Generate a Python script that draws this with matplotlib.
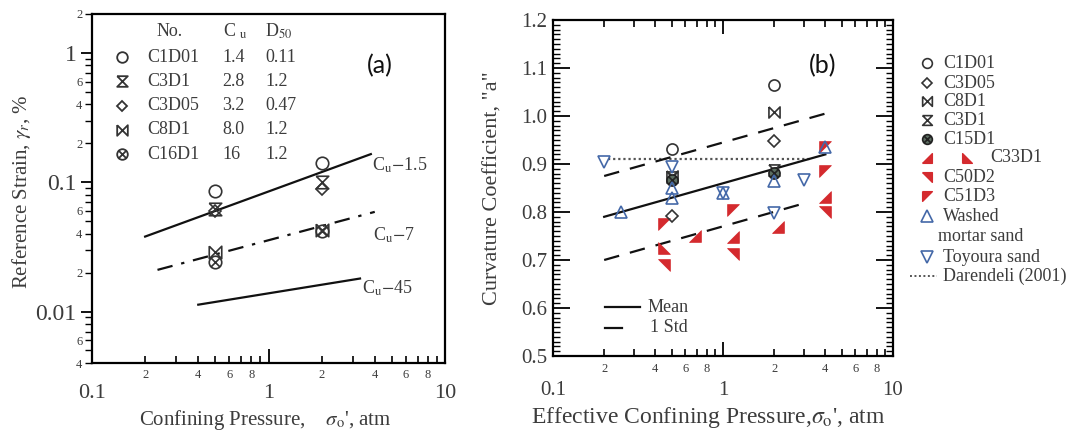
import matplotlib
matplotlib.use("Agg")
import matplotlib.pyplot as plt
import numpy as np
from matplotlib.path import Path
from matplotlib.ticker import LogLocator, FuncFormatter, MultipleLocator

plt.rcParams['font.family'] = ['Liberation Serif', 'DejaVu Serif']
plt.rcParams['mathtext.fontset'] = 'stix'
TXT = '#3c3c3c'
RED = '#d42a2e'
BLUE = '#4468a8'

# ── panel (a): reference strain ──────────────────────────────────────────────
a_names = ['C1D01', 'C3D1', 'C3D05', 'C8D1', 'C16D1']
a_cu = ['1.4', '2.8', '3.2', '8.0', '16']
a_d50 = ['0.11', '1.2', '0.47', '1.2', '1.2']
a_press = [0.5, 2.0]
strain_c1d01 = [0.085, 0.140]
strain_c3d1 = [0.062, 0.100]
strain_c3d05 = [0.060, 0.088]
strain_c8d1 = [0.029, 0.043]
strain_c16d1 = [0.024, 0.042]

cu15_x, cu15_y = [0.2, 3.8], [0.038, 0.165]
cu7_x, cu7_y = [0.235, 4.0], [0.021, 0.059]
cu45_x, cu45_y = [0.4, 3.3], [0.0113, 0.018]

# ── panel (b): curvature coefficient ─────────────────────────────────────────
b_press = [0.5, 2.0]
a_c1d01 = [0.932, 1.065]
a_c3d05 = [0.792, 0.948]
a_c8d1 = [0.875, 1.008]
a_c3d1 = [0.872, 0.888]
a_c15d1 = [0.866, 0.882]
c33a_x, c33a_y = [0.68, 1.15, 2.1, 4.0], [0.750, 0.748, 0.768, 0.832]
c33b_x, c33b_y = [0.45], [0.725]
c50_x, c50_y = [0.45, 1.15, 4.0], [0.690, 0.712, 0.800]
c51_x, c51_y = [0.45, 1.15, 4.0, 4.0], [0.775, 0.805, 0.885, 0.935]
washed_x = [0.25, 0.5, 0.5, 1.0, 2.0, 4.0]
washed_y = [0.800, 0.830, 0.850, 0.840, 0.865, 0.935]
toyoura_x = [0.2, 0.5, 1.0, 2.0, 3.0]
toyoura_y = [0.905, 0.893, 0.840, 0.798, 0.866]
mean_x, mean_y = [0.2, 4.0], [0.790, 0.920]
std_up_x, std_up_y = [0.2, 4.0], [0.875, 1.005]
std_lo_x, std_lo_y = [0.2, 3.0], [0.700, 0.818]
dar_x, dar_y = [0.21, 3.3], [0.91, 0.91]

# ── marker shapes ────────────────────────────────────────────────────────────
HOURGLASS = [(-1, 1), (1, 1), (-1, -1), (1, -1), (-1, 1)]
BOWTIE = [(-1, 1), (-1, -1), (1, 1), (1, -1), (-1, 1)]
CIRCX = Path.make_compound_path(Path.unit_circle(),
                                Path([(-.71, -.71), (.71, .71)]),
                                Path([(-.71, .71), (.71, -.71)]))
TRI_BR = [(-1, -1), (1, -1), (1, 1), (-1, -1)]   # ◢
TRI_BL = [(-1, -1), (1, -1), (-1, 1), (-1, -1)]  # ◣
TRI_TR = [(-1, 1), (1, 1), (1, -1), (-1, 1)]     # ◥
TRI_TL = [(-1, 1), (1, 1), (-1, -1), (-1, 1)]    # ◤

a_markers = ['o', HOURGLASS, 'D', BOWTIE, CIRCX]
a_sizes = [9, 9, 6.5, 9, 9]

W, H = 1080, 443
fig = plt.figure(figsize=(W / 100, H / 100), dpi=100)


def box(l, t, r, b):
    return [l / W, 1 - b / H, (r - l) / W, (b - t) / H]


def minor_fmt(keep):
    def f(v, pos):
        m = int(round(v / 10 ** np.floor(np.log10(v) + 1e-9)))
        return str(m) if m in keep else ''
    return FuncFormatter(f)


major_fmt = FuncFormatter(lambda v, p: f'{v:g}')

# ── axes (a) ────────────────────────────────────────────────────────────────
ax = fig.add_axes(box(92, 14, 445, 363))
ax.set_xscale('log')
ax.set_yscale('log')
ax.set_xlim(0.1, 10)
ax.set_ylim(0.004, 2)

ax.plot(cu15_x, cu15_y, color='#111', lw=1.6)
ax.plot(cu7_x, cu7_y, color='#111', lw=1.6, dashes=(7, 4, 1.5, 4))
ax.plot(cu45_x, cu45_y, color='#111', lw=1.6)
a_series = [strain_c1d01, strain_c3d1, strain_c3d05, strain_c8d1, strain_c16d1]
for ys, mk, ms in zip(a_series, a_markers, a_sizes):
    ax.plot(a_press, ys, ls='none', marker=mk, ms=ms, mfc='none', mec='#333', mew=1.2)

ax.xaxis.set_major_locator(LogLocator(base=10, numticks=10))
ax.xaxis.set_minor_locator(LogLocator(base=10, subs=np.arange(2, 10), numticks=20))
ax.yaxis.set_major_locator(LogLocator(base=10, numticks=10))
ax.yaxis.set_minor_locator(LogLocator(base=10, subs=np.arange(2, 10), numticks=20))
ax.xaxis.set_major_formatter(major_fmt)
ax.yaxis.set_major_formatter(major_fmt)
ax.xaxis.set_minor_formatter(minor_fmt({2, 4, 6, 8}))
ax.yaxis.set_minor_formatter(minor_fmt({2, 4, 6}))
ax.tick_params(axis='x', which='both', direction='in', labelcolor=TXT)
ax.tick_params(axis='y', which='both', direction='out', labelcolor=TXT)
ax.tick_params(axis='x', which='major', length=10, width=1.3, labelsize=16, pad=15)
ax.tick_params(axis='x', which='minor', length=5, width=1.2, labelsize=9, pad=4)
ax.tick_params(axis='y', which='major', length=8, width=1.3, labelsize=17, pad=3)
ax.tick_params(axis='y', which='minor', length=5, width=1.0, labelsize=9, pad=2)
for s in ax.spines.values():
    s.set_linewidth(1.6)

# ── axes (b) ────────────────────────────────────────────────────────────────
bx = fig.add_axes(box(553, 20, 893, 356))
bx.set_xscale('log')
bx.set_xlim(0.1, 10)
bx.set_ylim(0.5, 1.2)

bx.plot(dar_x, dar_y, color='#555', lw=1.6, dashes=(1, 1.3))
bx.plot(mean_x, mean_y, color='#111', lw=1.6)
bx.plot(std_up_x, std_up_y, color='#111', lw=1.6, dashes=(7, 5))
bx.plot(std_lo_x, std_lo_y, color='#111', lw=1.6, dashes=(7, 5))

red_kw = dict(ls='none', ms=8.5, color=RED, mec=RED, mew=0.5)
bx.plot(c51_x, c51_y, marker=TRI_TL, **red_kw)
bx.plot(c33a_x, c33a_y, marker=TRI_BR, **red_kw)
bx.plot(c33b_x, c33b_y, marker=TRI_BL, **red_kw)
bx.plot(c50_x, c50_y, marker=TRI_TR, **red_kw)

open_kw = dict(ls='none', mfc='none', mec='#333', mew=1.2)
bx.plot(b_press, a_c1d01, marker='o', ms=8, **open_kw)
bx.plot(b_press, a_c3d05, marker='D', ms=6, **open_kw)
bx.plot(b_press, a_c8d1, marker=BOWTIE, ms=8, **open_kw)
bx.plot(b_press, a_c3d1, marker=HOURGLASS, ms=8, **open_kw)
bx.plot(b_press, a_c15d1, ls='none', marker=CIRCX, ms=8, mfc='#5d6f62', mec='#222', mew=1.2)
bx.plot(washed_x, washed_y, ls='none', marker='^', ms=9, mfc='none', mec=BLUE, mew=1.2)
bx.plot(toyoura_x, toyoura_y, ls='none', marker='v', ms=9, mfc='none', mec=BLUE, mew=1.2)

bx.xaxis.set_major_locator(LogLocator(base=10, numticks=10))
bx.xaxis.set_minor_locator(LogLocator(base=10, subs=np.arange(2, 10), numticks=20))
bx.xaxis.set_major_formatter(major_fmt)
bx.xaxis.set_minor_formatter(minor_fmt({2, 4, 6, 8}))
bx.yaxis.set_major_locator(MultipleLocator(0.1))
bx.yaxis.set_minor_locator(MultipleLocator(0.01))
bx.yaxis.set_major_formatter(FuncFormatter(lambda v, p: f'{v:.1f}'))
bx.tick_params(which='both', direction='in', top=True, right=True, labelcolor=TXT)
bx.tick_params(axis='x', which='major', length=10, width=1.3, labelsize=15, pad=18)
bx.tick_params(axis='x', which='minor', length=5, width=1.2, labelsize=9, pad=5)
bx.tick_params(axis='y', which='major', length=12, width=1.3, labelsize=15, pad=4)
bx.tick_params(axis='y', which='minor', length=5, width=1.0)
for s in bx.spines.values():
    s.set_linewidth(1.6)

# ── overlay for legends and labels (pixel coordinates) ──────────────────────
ov = fig.add_axes([0, 0, 1, 1])
ov.set_xlim(0, W)
ov.set_ylim(H, 0)
ov.axis('off')

tkw = dict(color=TXT, fontsize=13, va='center')
ov.text(157, 31, 'No.', **tkw)
ov.text(223, 31, r'C $_{\rm u}$', **tkw)
ov.text(265, 31, r'D$_{50}$', **tkw)
for i, name in enumerate(a_names):
    y = 57 + 24.3 * i
    ov.plot(122, y, marker=a_markers[i], ms=a_sizes[i] * 0.85, mfc='none', mec='#333', mew=1.3)
    ov.text(147, y, name, **tkw)
    ov.text(222, y, a_cu[i], **tkw)
    ov.text(265, y, a_d50[i], **tkw)

ov.text(372, 165, r'C$_{\rm u}$$-$1.5', **tkw)
ov.text(373, 235, r'C$_{\rm u}$$-$7', **tkw)
ov.text(362, 288, r'C$_{\rm u}$$-$45', **tkw)

ov.text(380, 66, '(a)', fontsize=18, family='Lato', color='#111', ha='center', va='center')
ov.text(823, 66, '(b)', fontsize=18, family='Lato', color='#111', ha='center', va='center')

ov.text(265, 420, r"Confining Pressure,    $\sigma_{\rm o}$', atm", color=TXT, fontsize=15,
        ha='center', va='center')
ov.text(22, 192, r"Reference Strain, $\gamma_r$, %", color=TXT, fontsize=15,
        ha='center', va='center', rotation=90)
ov.text(708, 418, r"Effective Confining Pressure,$\sigma_{\rm o}$', atm", color=TXT, fontsize=17,
        ha='center', va='center')
ov.text(493, 188, 'Curvature Coefficient, "a"', color=TXT, fontsize=16,
        ha='center', va='center', rotation=90)

# inner legend of panel (b)
ov.plot([605, 640], [307, 307], color='#111', lw=1.6)
ov.text(648, 307, 'Mean', **tkw)
ov.plot([605, 622], [328, 328], color='#111', lw=1.6)
ov.text(650, 328, '1 Std', **tkw)

# outer legend of panel (b)
lx, tx = 927, 943
rows = [63, 83, 101, 120, 139, 158, 177, 196, 216, 236, 257, 276]
ov.plot(lx, rows[0], marker='o', ms=7, **open_kw)
ov.text(tx, rows[0], 'C1D01', **tkw)
ov.plot(lx, rows[1], marker='D', ms=5.5, **open_kw)
ov.text(tx, rows[1], 'C3D05', **tkw)
ov.plot(lx, rows[2], marker=BOWTIE, ms=7, **open_kw)
ov.text(tx, rows[2], 'C8D1', **tkw)
ov.plot(lx, rows[3], marker=HOURGLASS, ms=7, **open_kw)
ov.text(tx, rows[3], 'C3D1', **tkw)
ov.plot(lx, rows[4], marker=CIRCX, ms=7, mfc='#5d6f62', mec='#222', mew=1.2)
ov.text(tx, rows[4], 'C15D1', **tkw)
ov.plot(lx, rows[5], marker=TRI_BR, ms=7, color=RED, mec=RED)
ov.plot(967, rows[5], marker=TRI_BL, ms=7, color=RED, mec=RED)
ov.text(990, rows[5], 'C33D1', **tkw)
ov.plot(lx, rows[6], marker=TRI_TR, ms=7, color=RED, mec=RED)
ov.text(tx, rows[6], 'C50D2', **tkw)
ov.plot(lx, rows[7], marker=TRI_TL, ms=7, color=RED, mec=RED)
ov.text(tx, rows[7], 'C51D3', **tkw)
ov.plot(lx, rows[8], marker='^', ms=8, mfc='none', mec=BLUE, mew=1.2)
ov.text(tx, rows[8], 'Washed', **tkw)
ov.text(938, rows[9], 'mortar sand', **tkw)
ov.plot(lx, rows[10], marker='v', ms=8, mfc='none', mec=BLUE, mew=1.2)
ov.text(tx, rows[10], 'Toyoura sand', **tkw)
ov.plot([910, 937], [rows[11], rows[11]], color='#555', lw=1.4, dashes=(1, 1.3))
ov.text(tx, rows[11], 'Darendeli (2001)', **tkw)

fig.savefig('out.png', dpi=100)
